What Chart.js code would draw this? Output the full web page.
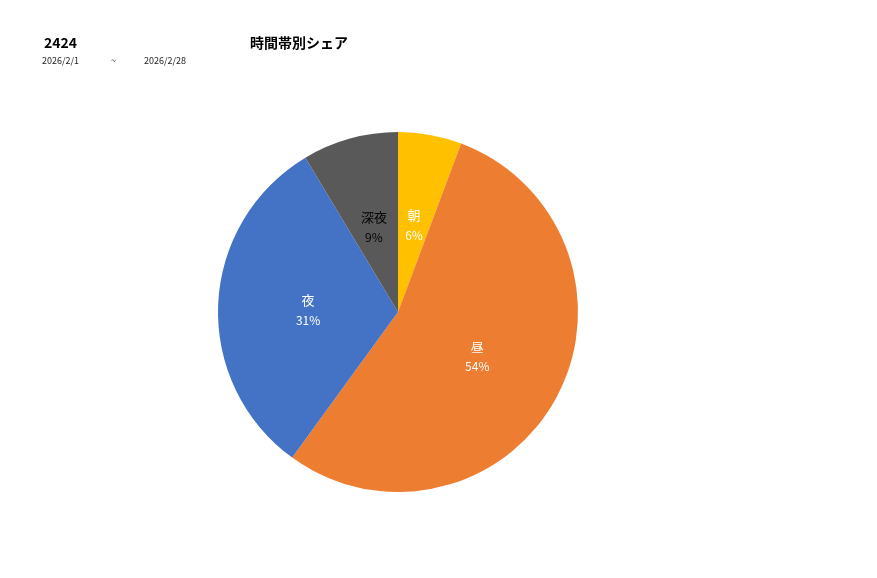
<!DOCTYPE html>
<html>
<head>
<meta charset="utf-8">
<script src="https://cdn.jsdelivr.net/npm/chart.js@4"></script>
<style>
  body { margin: 0; background: #fff; font-family: "Noto Sans CJK JP", "Noto Sans", sans-serif; }
  #wrap { position: relative; width: 877px; height: 578px; }
  .txt { position: absolute; color: #000; white-space: nowrap; }
  .big { font-size: 14px; font-weight: bold; }
  .small { font-size: 9px; color: #222; }
</style>
</head>
<body>
<div id="wrap">
  <canvas id="myChart" width="877" height="578"></canvas>
  <div class="txt big" style="left:44px; top:32px;">2424</div>
  <div class="txt big" style="left:250px; top:32px;">時間帯別シェア</div>
  <div class="txt small" style="left:42px; top:54px;">2026/2/1</div>
  <div class="txt small" style="left:111px; top:54px;">~</div>
  <div class="txt small" style="left:144px; top:54px;">2026/2/28</div>
</div>
<script>
const categories = ["朝", "昼", "夜", "深夜"];
const shares = [5.7, 54.3, 31.4, 8.6];
const sliceColors = ["#FFC000", "#ED7D31", "#4472C4", "#595959"];
const labelColors = ["#fff", "#fff", "#fff", "#000"];

// draw name + percent inside each slice
const sliceLabels = {
  id: "sliceLabels",
  afterDatasetsDraw(chart) {
    const ctx = chart.ctx;
    const meta = chart.getDatasetMeta(0);
    const total = shares.reduce((a, b) => a + b, 0);
    meta.data.forEach((arc, i) => {
      const p = arc.getProps(["x", "y", "startAngle", "endAngle", "outerRadius"], true);
      const mid = (p.startAngle + p.endAngle) / 2;
      const r = p.outerRadius * 0.5;
      const x = p.x + Math.cos(mid) * r;
      const y = p.y + Math.sin(mid) * r;
      ctx.save();
      ctx.fillStyle = labelColors[i];
      ctx.textAlign = "center";
      ctx.textBaseline = "middle";
      ctx.font = '13px "Noto Sans CJK JP"';
      ctx.fillText(categories[i], x, y - 8);
      ctx.font = '12px "Noto Sans CJK JP"';
      ctx.fillText(Math.round(shares[i] / total * 100) + "%", x, y + 12);
      ctx.restore();
    });
  }
};

const ctx = document.getElementById("myChart").getContext("2d");
new Chart(ctx, {
  type: "pie",
  data: {
    labels: categories,
    datasets: [{
      data: shares,
      backgroundColor: sliceColors,
      borderWidth: 0
    }]
  },
  options: {
    responsive: false,
    animation: false,
    layout: { padding: { top: 132, bottom: 86, left: 218, right: 299 } },
    plugins: {
      legend: { display: false },
      tooltip: { enabled: false }
    }
  },
  plugins: [sliceLabels]
});
</script>
</body>
</html>
